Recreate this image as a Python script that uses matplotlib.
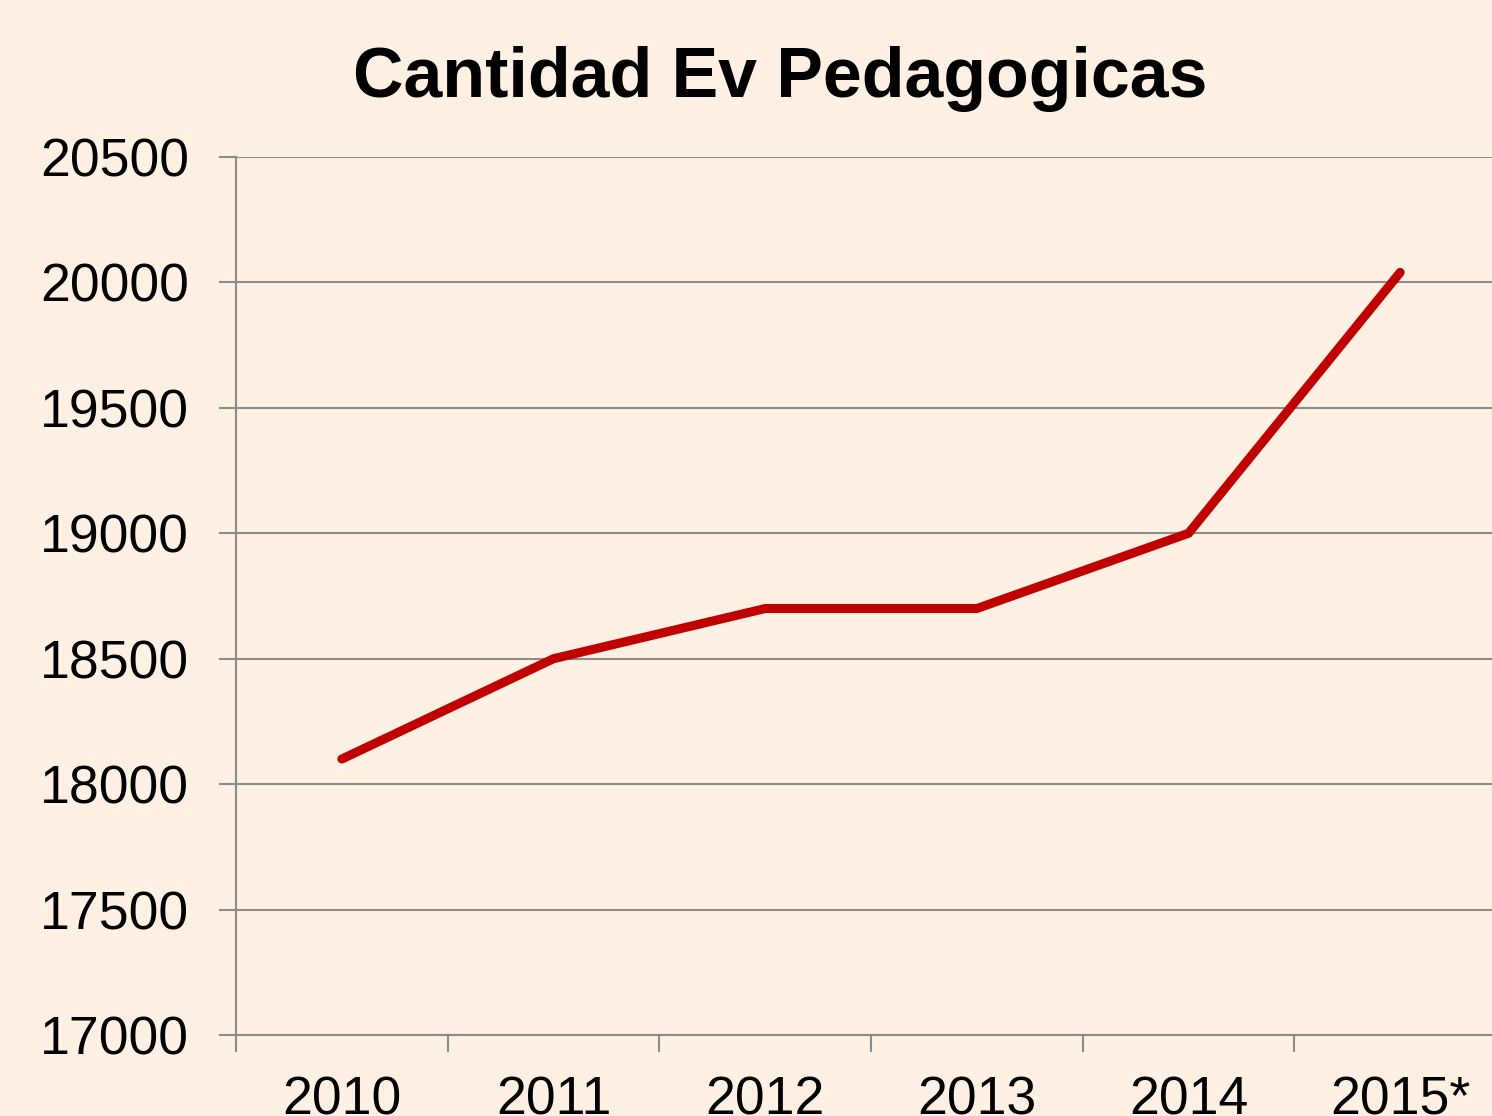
#!/usr/bin/env python3
import matplotlib
matplotlib.use('Agg')
import matplotlib.pyplot as plt

# datos
years = ['2010', '2011', '2012', '2013', '2014', '2015*']
cantidad = [18100, 18500, 18700, 18700, 19000, 20040]
yticks = [17000, 17500, 18000, 18500, 19000, 19500, 20000, 20500]

bg = '#FEF0E2'
grid_col = '#8C8C8C'

plt.rcParams['font.family'] = ['Liberation Sans', 'DejaVu Sans']

fig = plt.figure(figsize=(14.92, 11.16), dpi=100, facecolor=bg)
ax = fig.add_axes([236 / 1492, 81 / 1116, 1270 / 1492, 878 / 1116])
ax.set_facecolor(bg)

x = list(range(len(years)))
ax.plot(x, cantidad, color='#C00000', linewidth=6.5, solid_capstyle='round',
        solid_joinstyle='miter', zorder=3)

ax.set_xlim(-0.5, len(years) - 0.5)
ax.set_ylim(17000, 20500)
ax.set_yticks(yticks)
ax.set_yticklabels([str(v) for v in yticks])
ax.yaxis.grid(True, color=grid_col, linewidth=1.5)

# ticks de categorias en los bordes
ax.set_xticks([i - 0.5 for i in range(len(years) + 1)], minor=False)
ax.set_xticklabels([])
ax.set_xticks(x, minor=True)
ax.set_xticklabels(years, minor=True)
ax.tick_params(axis='x', which='major', length=12, width=1.5, color=grid_col, direction='out')
ax.tick_params(axis='x', which='minor', length=0, pad=29, labelsize=38.5)
ax.tick_params(axis='y', length=12, width=1.5, color=grid_col, direction='out',
               pad=22, labelsize=38.5)

for s in ['top', 'right']:
    ax.spines[s].set_visible(False)
for s in ['left', 'bottom']:
    ax.spines[s].set_color(grid_col)
    ax.spines[s].set_linewidth(1.5)

fig.text(780 / 1492, 1 - 97 / 1116, 'Cantidad Ev Pedagogicas', ha='center',
         va='baseline', fontsize=50.3, fontweight='bold')

fig.savefig('out.png', dpi=100, facecolor=bg)
